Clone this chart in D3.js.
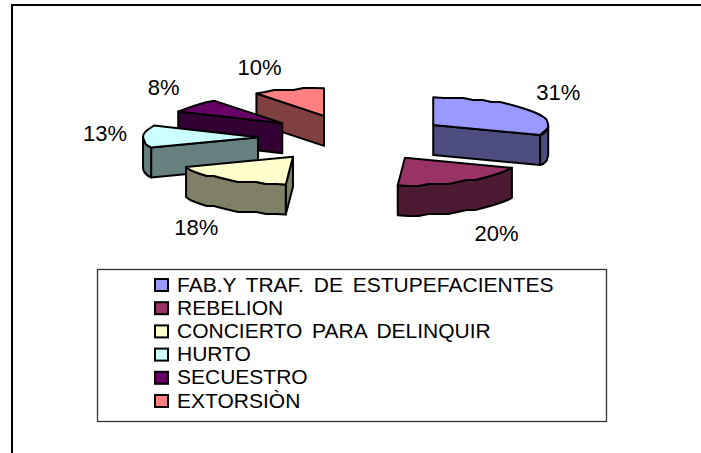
<!DOCTYPE html>
<html>
<head>
<meta charset="utf-8">
<script src="https://cdnjs.cloudflare.com/ajax/libs/d3/7.8.5/d3.min.js"></script>
<style>
html, body { margin: 0; padding: 0; background: #fff; }
svg { display: block; }
text { font-family: "Liberation Sans", Arial, sans-serif; fill: #000; }
</style>
</head>
<body>
<div id="chart"></div>
<script>
var categories = ['FAB.Y TRAF. DE ESTUPEFACIENTES', 'REBELION', 'CONCIERTO PARA DELINQUIR', 'HURTO', 'SECUESTRO', 'EXTORSIÒN'];
var percents = [31, 20, 18, 13, 8, 10];
var colors = ['#9999ff', '#993366', '#ffffcc', '#ccffff', '#660066', '#ff8080'];
// label nudge from the middle of each slice rim
var labelNudge = [[30, -17], [30, 52], [-32, 48], [-36, -3], [-26, -18], [-28, -23]];
// small sideways correction of each exploded slice
var apexNudge = [0, 0, -3, 2, 4, 1];

var width = 701, height = 453;
var cx = 353, cy = 138;      // pie centre before exploding
var rx = 115, tilt = 0.24;   // ellipse of the tilted pie
var explode = 97, depth = 30;
var gridStep = 2;            // rim is snapped to a coarse grid, gives the rough edge

var svg = d3.select('#chart').append('svg').attr('width', width).attr('height', height);

// frame, open on the right
svg.append('path')
	.attr('d', 'M12,' + height + 'V5H' + width)
	.attr('fill', 'none').attr('stroke', '#000').attr('stroke-width', 2);

var arcs = d3.pie().sort(null)(percents);

// angle (clockwise from 12 o'clock) to screen offset
var px = d3.scaleLinear().domain([-1, 1]).range([-rx, rx]);
var py = d3.scaleLinear().domain([-1, 1]).range([-rx * tilt, rx * tilt]);
function rim(a) { return [px(Math.sin(a)), py(-Math.cos(a))]; }
function snap(v) { return Math.round(v / gridStep) * gridStep; }

var line = d3.line();
function closed(pts) { return line(pts) + 'Z'; }

function rimPoints(a0, a1, apex) {
	var n = Math.max(2, Math.ceil((a1 - a0) / 0.09));
	return d3.range(n + 1).map(function(i) {
		var a = a0 + (a1 - a0) * i / n;
		var p = rim(a);
		var q = [apex[0] + p[0], apex[1] + p[1]];
		return (i === 0 || i === n) ? q : [q[0], snap(q[1])];
	});
}
function drop(pts) { return pts.map(function(p) { return [p[0], p[1] + depth]; }); }
function halfTone(c) {
	var r = d3.rgb(c);
	return d3.rgb(r.r / 2, r.g / 2, r.b / 2).formatHex();
}

var pie = svg.append('g').attr('class', 'pie');
var slices = arcs.map(function(d) {
	var mid = (d.startAngle + d.endAngle) / 2;
	return {
		d: d,
		mid: mid,
		apex: [cx + explode * Math.sin(mid) + apexNudge[d.index], cy + explode * tilt * -Math.cos(mid)]
	};
});

// back slices first
var slice = pie.selectAll('g').data(slices.slice().reverse()).enter().append('g')
	.attr('stroke', '#000').attr('stroke-width', 2).attr('stroke-linejoin', 'round');

slice.each(function(s) {
	var g = d3.select(this);
	var a0 = s.d.startAngle, a1 = s.d.endAngle;
	var col = colors[s.d.index], dark = halfTone(col);
	var wallFrom = Math.max(a0, Math.PI / 2), wallTo = Math.min(a1, Math.PI * 1.5);

	// cut faces that turn toward the viewer
	[[a0, Math.sin(a0) < -1e-6], [a1, Math.sin(a1) > 1e-6]].forEach(function(f) {
		if (!f[1]) return;
		var p = rim(f[0]);
		var top = [s.apex, [s.apex[0] + p[0], s.apex[1] + p[1]]];
		g.append('path').attr('d', closed(top.concat(drop(top).reverse()))).attr('fill', dark);
	});
	// outer wall
	if (wallTo > wallFrom) {
		var edge = rimPoints(wallFrom, wallTo, s.apex);
		g.append('path').attr('d', closed(edge.concat(drop(edge).reverse()))).attr('fill', dark);
	}
	// top
	g.append('path')
		.attr('d', closed([s.apex].concat(rimPoints(a0, a1, s.apex))))
		.attr('fill', col);
});

// percent labels
svg.append('g').selectAll('text').data(slices).enter().append('text')
	.attr('x', function(s) { return s.apex[0] + rim(s.mid)[0] + labelNudge[s.d.index][0] - apexNudge[s.d.index]; })
	.attr('y', function(s) { return s.apex[1] + rim(s.mid)[1] + labelNudge[s.d.index][1]; })
	.attr('dy', '0.36em')
	.attr('text-anchor', 'middle')
	.attr('font-size', 22)
	.text(function(s) { return percents[s.d.index] + '%'; });

// legend
var legendY = d3.scalePoint().domain(categories).range([284, 400]);
svg.append('rect')
	.attr('x', 97.5).attr('y', 269.5).attr('width', 509).attr('height', 152)
	.attr('fill', '#fff').attr('stroke', '#333').attr('stroke-width', 1.3);
var item = svg.append('g').selectAll('g').data(categories).enter().append('g')
	.attr('transform', function(c) { return 'translate(0,' + legendY(c) + ')'; });
item.append('rect')
	.attr('x', 155).attr('y', -5).attr('width', 13).attr('height', 12)
	.attr('fill', function(c, i) { return colors[i]; })
	.attr('stroke', '#000').attr('stroke-width', 2);
item.append('text')
	.attr('x', 177).attr('dy', '0.36em')
	.attr('font-size', 21)
	.attr('word-spacing', 4)
	.text(function(c) { return c; });
</script>
</body>
</html>
